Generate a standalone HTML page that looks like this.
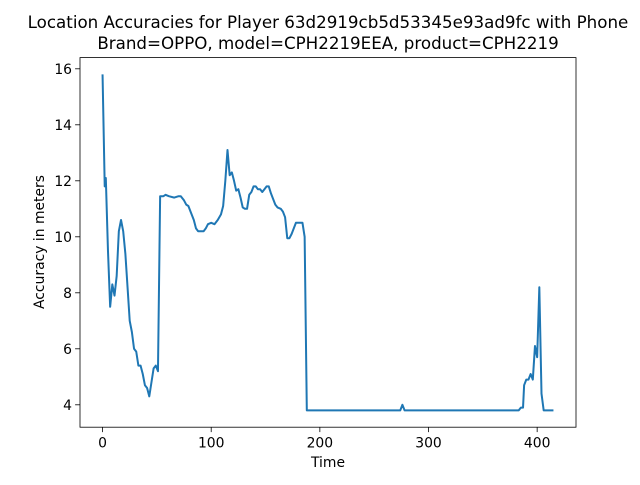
<!DOCTYPE html>
<html><head><meta charset="utf-8"><style>
body{margin:0;background:#fff;}
svg text{font-family:"DejaVu Sans","Liberation Sans",sans-serif;fill:#000;}
</style></head><body>
<svg id="chart" width="640" height="480" viewBox="0 0 640 480" xmlns="http://www.w3.org/2000/svg">
<rect width="640" height="480" fill="#fff"/>
<text x="328" y="28" font-size="16.7" text-anchor="middle">Location Accuracies for Player 63d2919cb5d53345e93ad9fc with Phone</text>
<text x="328" y="49" font-size="16.7" text-anchor="middle">Brand=OPPO, model=CPH2219EEA, product=CPH2219</text>
<text x="328" y="467" font-size="13.9" text-anchor="middle">Time</text>
<text x="44" y="242" font-size="13.9" text-anchor="middle" transform="rotate(-90 44 242)">Accuracy in meters</text>
<g id="ticks"></g>
<polyline id="series" fill="none" stroke="#1f77b4" stroke-width="2" stroke-linejoin="round"/>
<rect x="80" y="57.6" width="496" height="369.6" fill="none" stroke="#000" stroke-width="0.8"/>
</svg>
<script>
const xVals=[0,2,3,5,7,9,11,13,15,17,19,21,23,25,27,29,31,33,35,37,39,41,43,45,47,49,51,53,56,58,61,66,70,72,75,77,79,81,84,86,88,91,93,95,97,100,103,106,109,111,113,115,117,119,121,123,125,127,129,131,133,135,137,139,141,143,145,147,149,151,153,155,157,159,161,164,166,168,170,172,174,176,178,180,184,186,188,274,276,278,383,385,387,388,390,392,394,396,398,400,402,404,406,415];
const yVals=[15.8,11.8,12.1,9.5,7.5,8.3,7.9,8.6,10.2,10.6,10.2,9.4,8.2,7.0,6.6,6.0,5.9,5.4,5.4,5.1,4.7,4.6,4.3,4.8,5.3,5.4,5.2,11.45,11.45,11.5,11.45,11.4,11.45,11.45,11.3,11.15,11.1,10.9,10.6,10.3,10.2,10.2,10.2,10.3,10.45,10.5,10.45,10.6,10.8,11.1,12.0,13.1,12.2,12.3,12.0,11.65,11.7,11.4,11.05,11.0,11.0,11.5,11.6,11.8,11.8,11.7,11.7,11.6,11.7,11.8,11.8,11.55,11.35,11.15,11.05,11.0,10.9,10.7,9.95,9.95,10.1,10.3,10.5,10.5,10.5,10.0,3.8,3.8,4.0,3.8,3.8,3.9,3.9,4.7,4.9,4.9,5.1,4.9,6.1,5.7,8.2,4.4,3.8,3.8];
const xTicks=[0,100,200,300,400];
const yTicks=[4,6,8,10,12,14,16];
const L=80,R=576,T=57.6,B=427.2;
const xmin=Math.min(...xVals),xmax=Math.max(...xVals),ymin=Math.min(...yVals),ymax=Math.max(...yVals);
const x0=xmin-(xmax-xmin)*0.05,x1=xmax+(xmax-xmin)*0.05,y0=ymin-(ymax-ymin)*0.05,y1=ymax+(ymax-ymin)*0.05;
const sx=v=>L+(v-x0)/(x1-x0)*(R-L);
const sy=v=>B-(v-y0)/(y1-y0)*(B-T);
const ns="http://www.w3.org/2000/svg";
const g=document.getElementById('ticks');
function mk(tag,attrs){const e=document.createElementNS(ns,tag);for(const k in attrs)e.setAttribute(k,attrs[k]);return e;}
xTicks.forEach(t=>{const x=sx(t);
const l=mk('line',{x1:x,x2:x,y1:B,y2:B+4.9,stroke:'#000','stroke-width':0.8});


g.appendChild(l);
const tx=mk('text',{x:x,y:B+20.5,'font-size':13.9,'text-anchor':'middle'});tx.textContent=t;


g.appendChild(tx);});
yTicks.forEach(t=>{const y=sy(t);
const l=mk('line',{x1:L-4.9,x2:L,y1:y,y2:y,stroke:'#000','stroke-width':0.8});


g.appendChild(l);
const tx=mk('text',{x:L-8,y:y+5,'font-size':13.9,'text-anchor':'end'});tx.textContent=t;


g.appendChild(tx);});
document.getElementById('series').setAttribute('points',xVals.map((v,i)=>sx(v).toFixed(2)+','+sy(yVals[i]).toFixed(2)).join(' '));
</script>
</body></html>
